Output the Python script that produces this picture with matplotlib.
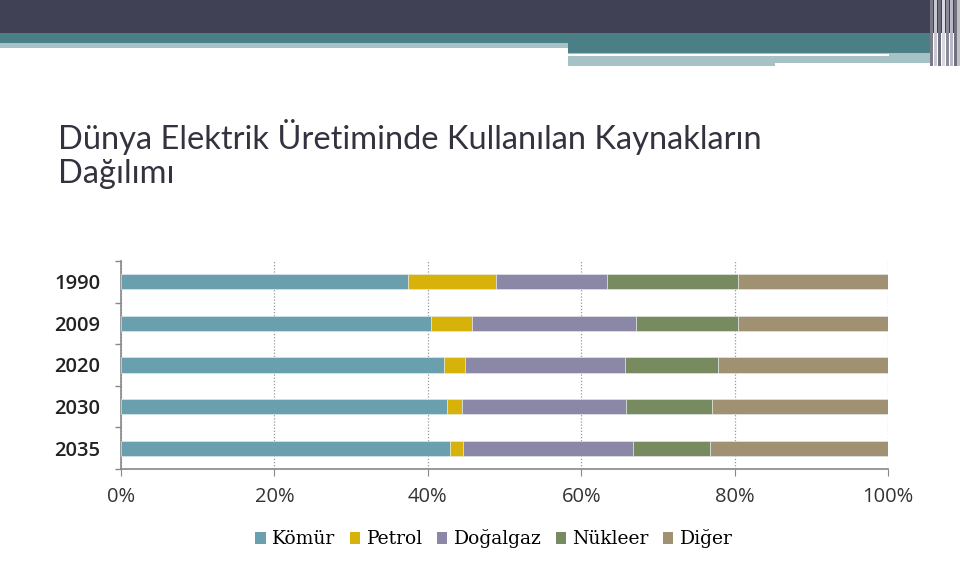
import matplotlib
matplotlib.use("Agg")
import matplotlib.pyplot as plt
from matplotlib.patches import Rectangle, Patch
from matplotlib.ticker import FixedLocator, PercentFormatter

years = ["1990", "2009", "2020", "2030", "2035"]
sources = ["Kömür", "Petrol", "Doğalgaz", "Nükleer", "Diğer"]
komur = [37.4, 40.4, 42.1, 42.5, 42.9]
petrol = [11.5, 5.3, 2.8, 1.9, 1.7]
dogalgaz = [14.5, 21.4, 20.8, 21.5, 22.1]
nukleer = [17.0, 13.4, 12.2, 11.1, 10.1]
diger = [19.6, 19.5, 22.1, 23.0, 23.2]
series = [komur, petrol, dogalgaz, nukleer, diger]
colors = ["#6a9fae", "#d6b20a", "#8b87a6", "#788a5f", "#a09172"]
xticks = [0, 20, 40, 60, 80, 100]
title_lines = ["Dünya Elektrik Üretiminde Kullanılan Kaynakların", "Dağılımı"]

fig = plt.figure(figsize=(9.6, 5.71), dpi=100)

# header bands (figure coords, y from top in pixels)
W, H = 960.0, 571.0
def band(x0, x1, y0, y1, c):
    fig.patches.append(Rectangle((x0 / W, 1 - y1 / H), (x1 - x0) / W, (y1 - y0) / H,
                                 transform=fig.transFigure, color=c, zorder=0, lw=0))
band(0, 960, 0, 33, "#414155")
band(0, 930, 33, 43, "#4a7f85")
band(0, 568, 43, 48, "#a6c2c6")
band(568, 930, 43, 53, "#4a7f85")
band(568, 930, 53, 56, "#a6c2c6")
band(568, 889, 53.5, 55.5, "#ffffff")
band(568, 775, 56, 66, "#a6c2c6")
band(775, 930, 56, 63, "#a6c2c6")
for xx, c in [(930, "#7a7a88"), (934, "#c8c8d0"), (938, "#6e6e7e"), (942, "#d8d8de"), (946, "#8a8a98"),
              (950, "#b8b8c4"), (954, "#70707e"), (957, "#c0c0c8")]:
    band(xx, xx + 3, 0, 66, c)

for line, base in zip(title_lines, [149, 183]):
    fig.text(58 / W, 1 - base / H, line, fontsize=23.5, color="#333340", family="Lato",
             ha="left", va="baseline")

ax = fig.add_axes([121 / W, 1 - 469 / H, (888 - 121) / W, (469 - 261) / H])
ypos = list(range(len(years)))
left = [0.0] * len(years)
for vals, col, name in zip(series, colors, sources):
    ax.barh(ypos, vals, left=left, height=0.37, color=col, label=name,
            edgecolor="#e8eef0", linewidth=0.4, zorder=3)
    left = [a + b for a, b in zip(left, vals)]

ax.set_xlim(0, 100)
ax.set_ylim(4.5, -0.5)
ax.set_xticks(xticks)
ax.xaxis.set_major_formatter(PercentFormatter(decimals=0))
ax.set_yticks(ypos)
ax.set_yticklabels(years)
ax.yaxis.set_minor_locator(FixedLocator([-0.5, 0.5, 1.5, 2.5, 3.5, 4.5]))
ax.tick_params(axis="y", which="major", length=0, pad=15, labelsize=14.5, labelcolor="#222222")
ax.tick_params(axis="y", which="minor", length=4, color="#888888", width=1)
ax.tick_params(axis="x", length=5, color="#888888", pad=8, labelsize=14.5, labelcolor="#333333")
for lab in ax.get_yticklabels():
    lab.set_fontweight("semibold")
    lab.set_family("Open Sans")
for lab in ax.get_xticklabels():
    lab.set_family("Open Sans")

for s in ["top", "right"]:
    ax.spines[s].set_visible(False)
for s in ["left", "bottom"]:
    ax.spines[s].set_color("#888888")
    ax.spines[s].set_linewidth(1.2)
ax.grid(axis="x", linestyle=(0, (1, 1.5)), color="#999999", linewidth=0.9, zorder=0)
ax.set_axisbelow(True)

handles = [Patch(facecolor=c, label=n) for c, n in zip(colors, sources)]
fig.legend(handles=handles, loc="center", bbox_to_anchor=(494 / W, 1 - 539 / H), ncol=5,
           frameon=False, prop={"family": "DejaVu Serif", "size": 13.5},
           handlelength=0.55, handleheight=0.55, handletextpad=0.35, columnspacing=0.75)

fig.savefig("out.png", dpi=100, facecolor="white")
